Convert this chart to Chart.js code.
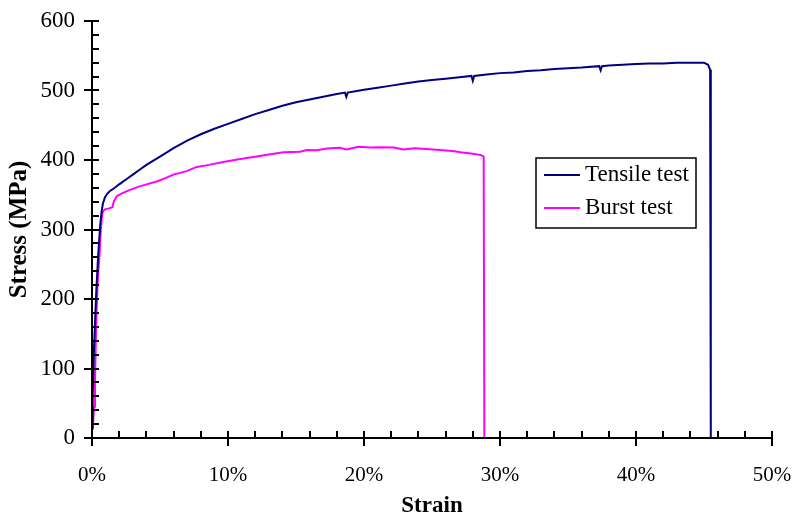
<!DOCTYPE html>
<html>
<head>
<meta charset="utf-8">
<script src="https://cdn.jsdelivr.net/npm/chart.js@4.4.0/dist/chart.umd.min.js"></script>
<style>
  html, body { margin: 0; padding: 0; background: #fff; }
</style>
</head>
<body>
<canvas id="myChart" width="793" height="518"></canvas>
<script>
// strain in %, stress in MPa
const tensileStrain = [0, 0.05, 0.15, 0.3, 0.45, 0.6, 0.7, 0.8, 0.95, 1.1, 1.3, 1.6, 2, 2.5, 3, 3.5, 4, 5, 6, 7, 8, 9, 10, 11, 12, 13, 14, 15, 16, 17, 18, 18.6, 18.7, 18.8, 20, 21, 22, 23, 24, 25, 26, 27, 27.9, 28, 28.1, 29, 30, 31, 32, 33, 34, 35, 36, 37.3, 37.4, 37.5, 38, 39, 40, 41, 42, 43, 44, 45, 45.3, 45.45, 45.5];
const tensileStress = [15, 60, 130, 205, 262, 305, 325, 337, 346, 351, 355, 359, 365, 372, 379, 386, 393, 405, 417, 428, 437, 445, 452, 459, 466, 472, 478, 483, 487, 491, 495, 497, 491, 497, 501, 504, 507, 510, 513, 515, 517, 519, 521, 514, 521, 523, 525, 526, 528, 529, 531, 532, 533, 535, 529, 535, 536, 537, 538, 539, 539, 540, 540, 540, 537, 530, 0];

const burstStrain = [0.05, 0.15, 0.22, 0.28, 0.34, 0.4, 0.46, 0.55, 0.62, 0.71, 0.8, 0.96, 1.2, 1.5, 1.6, 1.82, 2.2, 2.79, 3.5, 4.2, 4.76, 5.4, 5.98, 6.96, 7.7, 8.6, 9.65, 10.8, 12.1, 13, 14.07, 15.3, 15.8, 16.5, 17.3, 18.2, 18.7, 19.6, 20.5, 21.3, 22.2, 22.9, 23.7, 24.6, 25.8, 26.5, 27.1, 28, 28.6, 28.8, 28.85];
const burstStress = [12, 45, 80, 140, 185, 215, 238, 262, 290, 315, 326, 329, 330, 332, 340, 348, 352, 357, 362, 366, 369, 374, 379, 384, 390, 393, 397, 401, 405, 408, 411, 412, 414.5, 414, 416.5, 417.5, 415, 419, 418, 418.5, 418, 415, 417, 416, 414, 413, 411, 409, 407, 405, 0];

const seriesLabels = ["Tensile test", "Burst test"];
const seriesColors = ["#000080", "#ff00ff"];

const xMax = 50, xStep = 10, xMinorStep = 2;
const yMax = 600, yStep = 100, yMinorStep = 20;

const serif = "'Liberation Serif', 'Times New Roman', serif";

function toPoints(xs, ys) {
  return xs.map((x, i) => ({x: x, y: ys[i]}));
}

// axis lines with crossing major ticks and inward minor ticks
const axisTicks = {
  id: "axisTicks",
  afterDatasetsDraw(chart) {
    const ctx = chart.ctx;
    const xs = chart.scales.x, ys = chart.scales.y;
    const x0 = xs.getPixelForValue(0), y0 = ys.getPixelForValue(0);
    ctx.save();
    ctx.strokeStyle = "#000";
    ctx.lineWidth = 2;
    ctx.beginPath();
    ctx.moveTo(x0, ys.getPixelForValue(yMax));
    ctx.lineTo(x0, y0);
    ctx.lineTo(xs.getPixelForValue(xMax), y0);
    for (let v = 0; v <= xMax; v += xMinorStep) {
      const px = Math.round(xs.getPixelForValue(v));
      const major = v % xStep === 0;
      ctx.moveTo(px, y0 + (major ? 8 : 0));
      ctx.lineTo(px, y0 - 7);
    }
    for (let v = 0; v <= yMax; v += yMinorStep) {
      const py = Math.round(ys.getPixelForValue(v));
      const major = v % yStep === 0;
      ctx.moveTo(x0 - (major ? 8 : 0), py);
      ctx.lineTo(x0 + 7, py);
    }
    ctx.stroke();
    ctx.restore();
  }
};

// boxed legend inside the plot
const boxLegend = {
  id: "boxLegend",
  afterDraw(chart) {
    const ctx = chart.ctx;
    const left = 536, top = 158, w = 160, h = 70;
    ctx.save();
    ctx.fillStyle = "#fff";
    ctx.fillRect(left, top, w, h);
    ctx.strokeStyle = "#000";
    ctx.lineWidth = 1.5;
    ctx.strokeRect(left, top, w, h);
    ctx.font = "23px " + serif;
    ctx.textBaseline = "middle";
    ctx.fillStyle = "#000";
    chart.data.datasets.forEach((ds, i) => {
      const y = top + 17 + i * 33;
      ctx.strokeStyle = ds.borderColor;
      ctx.lineWidth = 2;
      ctx.beginPath();
      ctx.moveTo(left + 8, y);
      ctx.lineTo(left + 44, y);
      ctx.stroke();
      ctx.fillText(ds.label, left + 49, y);
    });
    ctx.restore();
  }
};

const myChart = new Chart(document.getElementById("myChart"), {
  type: "line",
  data: {
    datasets: [
      {label: seriesLabels[0], data: toPoints(tensileStrain, tensileStress),
       borderColor: seriesColors[0], borderWidth: 2, pointRadius: 0, tension: 0},
      {label: seriesLabels[1], data: toPoints(burstStrain, burstStress),
       borderColor: seriesColors[1], borderWidth: 2, pointRadius: 0, tension: 0}
    ]
  },
  options: {
    responsive: false,
    animation: false,
    layout: {autoPadding: false, padding: {top: 21, right: 21, left: 0, bottom: 0}},
    plugins: {legend: {display: false}, tooltip: {enabled: false}},
    scales: {
      x: {
        type: "linear", min: 0, max: xMax,
        grid: {display: false, drawTicks: false},
        border: {display: false},
        ticks: {stepSize: xStep, color: "#000", padding: 25, maxRotation: 0,
                font: {family: serif, size: 21}, callback: v => v + "%"},
        title: {display: true, text: "Strain", color: "#000", padding: 0,
                font: {family: serif, size: 23, weight: "bold", lineHeight: 1}},
        afterFit: s => { s.height = 80; s.paddingLeft = 0; s.paddingRight = 0; }
      },
      y: {
        min: 0, max: yMax,
        grid: {display: false, drawTicks: false},
        border: {display: false},
        ticks: {stepSize: yStep, color: "#000", padding: 17,
                font: {family: serif, size: 23}},
        title: {display: true, text: "Stress (MPa)", color: "#000", padding: {top: 7, bottom: 7},
                font: {family: serif, size: 25, weight: "bold", lineHeight: 1}},
        afterFit: s => { s.width = 92; s.paddingTop = 0; s.paddingBottom = 0; }
      }
    }
  },
  plugins: [axisTicks, boxLegend]
});
</script>
</body>
</html>
